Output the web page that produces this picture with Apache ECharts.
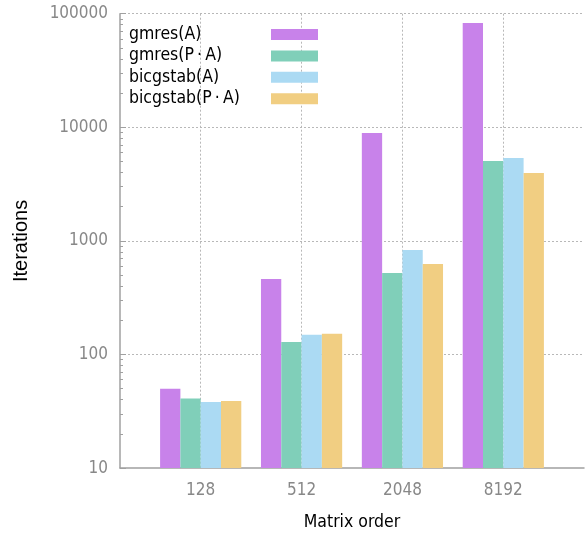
<!DOCTYPE html>
<html>
<head>
<meta charset="utf-8">
<script src="https://cdn.jsdelivr.net/npm/echarts@6/dist/echarts.min.js"></script>
<style>html,body{margin:0;padding:0;background:#fff}#c{width:585px;height:535px}</style>
</head>
<body>
<div id="c"></div>
<script>
const categories = ['128', '512', '2048', '8192'];
const seriesNames = ['gmres(A)', 'gmres(P\u2009·\u2009A)', 'bicgstab(A)', 'bicgstab(P\u2009·\u2009A)'];
const gmresA = [50, 462, 8900, 83000];
const gmresPA = [41, 129, 522, 5050];
const bicgstabA = [38.2, 149, 832, 5370];
const bicgstabPA = [39, 152, 627, 3960];
const yMajorTicks = [10, 100, 1000, 10000, 100000];
const colors = ['#c882ea', '#80cfb9', '#abdaf3', '#f1ce82'];

const minorTicks = [];
for (let d = 10; d < 100000; d *= 10) for (let k = 2; k <= 9; k++) minorTicks.push(d * k);

const seriesValues = [gmresA, gmresPA, bicgstabA, bicgstabPA];
const FONT = "'DejaVu Sans Condensed', 'Liberation Sans', sans-serif";

const chart = echarts.init(document.getElementById('c'), null, {renderer: 'canvas'});
chart.setOption({
  animation: false,
  color: colors,
  grid: {left: 120, right: 1, top: 13.7, bottom: 66.9, containLabel: false, outerBoundsMode: 'none'},
  legend: {
    orient: 'vertical', left: 129, top: 25.5, align: 'right', padding: 0,
    itemWidth: 47, itemHeight: 11, itemGap: 3.4,
    icon: 'rect',
    data: seriesNames,
    formatter: n => '{t|' + n + '}',
    textStyle: {
      fontFamily: FONT, fontSize: 17.5, color: '#000', lineHeight: 18, padding: 0,
      rich: {t: {fontFamily: FONT, fontSize: 17.5, color: '#000', width: 137, align: 'left', lineHeight: 18}}
    }
  },
  xAxis: {
    type: 'value', min: -0.8, max: 3.8, minInterval: 1, maxInterval: 1,
    axisLine: {show: true, onZero: false, lineStyle: {color: '#a0a0a0', width: 1.5}},
    axisTick: {show: false},
    splitLine: {show: true, showMinLine: false, showMaxLine: false, lineStyle: {type: [2, 2], color: '#b8b8b8', width: 1}},
    axisLabel: {
      showMinLabel: false, showMaxLabel: false, margin: 14,
      fontFamily: FONT, fontSize: 17, color: '#888',
      formatter: v => (Number.isInteger(v) && v >= 0 && v < categories.length) ? categories[v] : ''
    },
    name: 'Matrix order', nameLocation: 'middle', nameGap: 45,
    nameTextStyle: {fontFamily: FONT, fontSize: 17.5, color: '#000'}
  },
  yAxis: [{
    type: 'log', logBase: 10, min: 10, max: 100000,
    axisLine: {show: true, onZero: false, lineStyle: {color: '#a0a0a0', width: 1.5}},
    axisTick: {show: true, inside: true, length: 6, lineStyle: {color: '#a0a0a0'}},
    splitLine: {show: true, showMinLine: false, lineStyle: {type: [2, 2], color: '#b8b8b8', width: 1}},
    axisLabel: {fontFamily: FONT, fontSize: 17, color: '#888', margin: 12, customValues: yMajorTicks,
      formatter: v => String(Math.round(v))},
    name: 'Iterations', nameLocation: 'middle', nameGap: 89, nameRotate: 90,
    nameTextStyle: {fontFamily: "'Liberation Sans', sans-serif", fontSize: 20, color: '#000'}
  }, {
    type: 'log', logBase: 10, min: 10, max: 100000, position: 'left',
    axisLine: {show: false, onZero: false},
    axisTick: {show: true, inside: true, length: 3, customValues: minorTicks, lineStyle: {color: '#a0a0a0'}},
    axisLabel: {show: false},
    splitLine: {show: false}
  }],
  series: seriesNames.map((name, i) => ({
    name, type: 'bar', barWidth: 20.3, barGap: '0%',
    itemStyle: {color: colors[i]},
    data: seriesValues[i].map((v, j) => [j, v])
  }))
});
</script>
</body>
</html>
